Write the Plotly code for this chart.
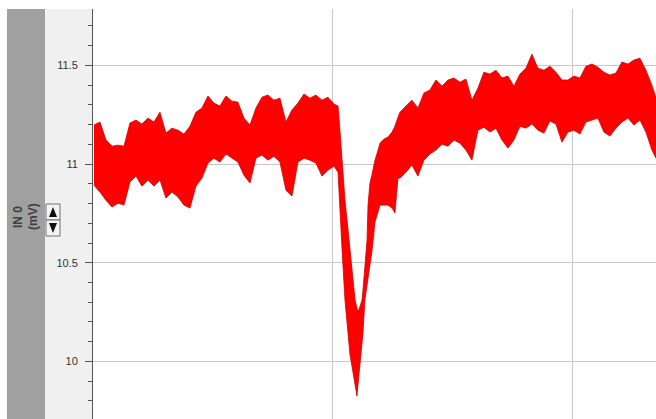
import plotly.graph_objects as go

# ---- data: time (s) and min/max envelope of the noisy trace (mV)
time_s = [0.004, 0.029, 0.054, 0.079, 0.104, 0.129, 0.154, 0.179, 0.204, 0.229,
          0.254, 0.279, 0.304, 0.329, 0.354, 0.379, 0.404, 0.429, 0.454, 0.479,
          0.504, 0.529, 0.554, 0.579, 0.604, 0.629, 0.654, 0.679, 0.704, 0.729,
          0.754, 0.779, 0.804, 0.829, 0.854, 0.879, 0.904, 0.929, 0.954, 0.979,
          1.004, 1.021, 1.029, 1.038, 1.050, 1.063, 1.071, 1.079, 1.092, 1.100,
          1.104, 1.113, 1.121, 1.125, 1.133, 1.142, 1.146, 1.154, 1.163, 1.175,
          1.188, 1.196, 1.213, 1.229, 1.246, 1.258, 1.271, 1.279,
          1.304, 1.329, 1.354, 1.379,
          1.404, 1.429, 1.454, 1.479, 1.504, 1.529, 1.554, 1.579, 1.604, 1.629,
          1.654, 1.679, 1.704, 1.729, 1.754, 1.779, 1.804, 1.829, 1.854, 1.879,
          1.904, 1.929, 1.954, 1.979, 2.004, 2.029, 2.054, 2.079, 2.104, 2.129,
          2.154, 2.179, 2.204, 2.229, 2.254, 2.279, 2.304, 2.329, 2.346]

upper_mV = [11.198, 11.213, 11.122, 11.091, 11.096, 11.091, 11.208, 11.223, 11.203, 11.233,
            11.213, 11.263, 11.157, 11.182, 11.172, 11.152, 11.192, 11.263, 11.284, 11.345,
            11.309, 11.294, 11.345, 11.319, 11.314, 11.233, 11.198, 11.284, 11.339, 11.350,
            11.324, 11.334, 11.213, 11.274, 11.309, 11.355, 11.334, 11.350, 11.324, 11.339,
            11.304, 11.294, 11.172, 11.020, 10.817, 10.665, 10.564, 10.463, 10.311, 10.270,
            10.250, 10.280, 10.311, 10.361, 10.488, 10.615, 10.792, 10.904, 10.949, 11.020,
            11.071, 11.106, 11.127, 11.137, 11.162, 11.192, 11.238, 11.263,
            11.294, 11.324, 11.284, 11.360,
            11.375, 11.426, 11.395, 11.426, 11.436, 11.415, 11.431, 11.324, 11.385, 11.466,
            11.456, 11.476, 11.436, 11.446, 11.395, 11.456, 11.486, 11.557, 11.486, 11.476,
            11.496, 11.466, 11.426, 11.426, 11.446, 11.436, 11.496, 11.507, 11.491, 11.466,
            11.451, 11.461, 11.517, 11.507, 11.527, 11.537, 11.476, 11.400, 11.334]

lower_mV = [10.893, 10.858, 10.817, 10.782, 10.802, 10.792, 10.909, 10.939, 10.888, 10.919,
            10.888, 10.919, 10.828, 10.858, 10.833, 10.792, 10.777, 10.888, 10.929, 11.005,
            11.030, 11.010, 11.051, 11.030, 11.010, 10.944, 10.904, 11.030, 11.046, 11.020,
            11.040, 11.010, 10.868, 10.838, 11.010, 11.030, 11.020, 11.005, 10.939, 10.969,
            10.990, 10.959, 10.741, 10.564, 10.311, 10.143, 10.032, 9.976, 9.885, 9.824,
            9.880, 9.981, 10.082, 10.143, 10.311, 10.387, 10.422, 10.498, 10.564, 10.706,
            10.767, 10.792, 10.792, 10.792, 10.777, 10.752, 10.929, 10.929,
            10.959, 10.995, 10.939, 11.020,
            11.051, 11.071, 11.101, 11.091, 11.122, 11.106, 11.071, 11.020, 11.172, 11.187,
            11.162, 11.182, 11.122, 11.081, 11.122, 11.192, 11.182, 11.203, 11.172, 11.157,
            11.218, 11.203, 11.111, 11.162, 11.172, 11.152, 11.213, 11.223, 11.233, 11.162,
            11.142, 11.182, 11.213, 11.233, 11.198, 11.223, 11.162, 11.071, 11.030]

y_tick_vals = [10, 10.5, 11, 11.5]
y_tick_text = ["10", "10.5", "11", "11.5"]
channel_name = "IN 0"
channel_unit = "(mV)"

# ---- layout geometry helpers (pixels -> paper coords)
W, H = 656, 419
L_M, T_M = 93, 9
PW, PH = W - L_M, H - T_M


def px(x):
    return (x - L_M) / PW


def py(y):
    return (H - y) / PH


RED = "#ff0000"
EDGE = "#d40000"

fig = go.Figure()
fig.add_trace(go.Scatter(x=time_s, y=lower_mV, mode="lines",
                         line=dict(color=EDGE, width=0.8), hoverinfo="skip"))
fig.add_trace(go.Scatter(x=time_s, y=upper_mV, mode="lines", fill="tonexty",
                         fillcolor=RED, line=dict(color=EDGE, width=0.8), hoverinfo="skip"))

shapes = [
    dict(type="rect", xref="paper", yref="paper", x0=px(7), x1=px(45), y0=0, y1=1,
         fillcolor="#a0a0a0", line=dict(width=0), layer="below"),
    dict(type="rect", xref="paper", yref="paper", x0=px(45), x1=px(93), y0=0, y1=1,
         fillcolor="#f0f0f0", line=dict(width=0), layer="below"),
    dict(type="rect", xref="paper", yref="paper", x0=px(46), x1=px(60), y0=py(220), y1=py(204),
         fillcolor="#f4f4f4", line=dict(color="#707070", width=1), layer="above"),
    dict(type="rect", xref="paper", yref="paper", x0=px(46), x1=px(60), y0=py(236), y1=py(220),
         fillcolor="#f4f4f4", line=dict(color="#707070", width=1), layer="above"),
    dict(type="path", xref="paper", yref="paper",
         path=f"M {px(53)} {py(207)} L {px(49)} {py(217)} L {px(57)} {py(217)} Z",
         fillcolor="#111111", line=dict(width=0), layer="above"),
    dict(type="path", xref="paper", yref="paper",
         path=f"M {px(49)} {py(223)} L {px(57)} {py(223)} L {px(53)} {py(233)} Z",
         fillcolor="#111111", line=dict(width=0), layer="above"),
]

annotations = [
    dict(text=f"<b>{channel_name}</b>", xref="paper", yref="paper", x=px(18), y=py(217),
         showarrow=False, textangle=-90, font=dict(family="Arial", size=12, color="#404040"),
         xanchor="center", yanchor="middle"),
    dict(text=f"<b>{channel_unit}</b>", xref="paper", yref="paper", x=px(33), y=py(217),
         showarrow=False, textangle=-90, font=dict(family="Arial", size=12, color="#404040"),
         xanchor="center", yanchor="middle"),
]

fig.update_layout(
    width=W, height=H,
    margin=dict(l=L_M, r=0, t=T_M, b=0, pad=0),
    paper_bgcolor="white", plot_bgcolor="white",
    showlegend=False, hovermode=False,
    shapes=shapes, annotations=annotations,
    xaxis=dict(range=[0, 2.346], tick0=0, dtick=1, showgrid=True, gridcolor="#c8c8c8",
               gridwidth=1, showticklabels=False, ticks="", zeroline=False, showline=False),
    yaxis=dict(range=[9.708, 11.786], tickvals=y_tick_vals, ticktext=y_tick_text,
               showgrid=True, gridcolor="#c8c8c8", gridwidth=1, zeroline=False,
               showline=True, linecolor="#555555", linewidth=1,
               ticks="outside", ticklen=7, tickcolor="#555555", tickwidth=1,
               ticklabelstandoff=5,
               tickfont=dict(family="Arial", size=11, color="#333333"),
               minor=dict(dtick=0.1, tick0=0, ticks="outside", ticklen=4,
                          tickcolor="#555555", showgrid=False)),
)

fig.write_html("out.html", config={"displayModeBar": False},
               post_script="document.body.style.margin='0';document.body.style.padding='0';")
